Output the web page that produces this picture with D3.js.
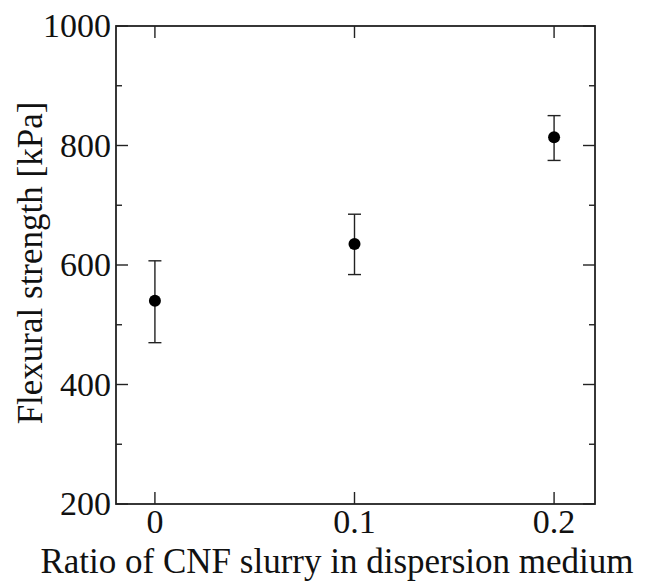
<!DOCTYPE html>
<html>
<head>
<meta charset="utf-8">
<title>Flexural strength</title>
<script src="https://d3js.org/d3.v7.min.js"></script>
<style>
  body { margin: 0; background: #fff; }
  text { font-family: "Liberation Serif", "Times New Roman", serif; fill: #111; }
</style>
</head>
<body>
<svg id="chart"></svg>
<script>
// data
var ratios = [0, 0.1, 0.2];
var strength = [540, 635, 814];
var errLow = [470, 584, 775];
var errHigh = [607, 685, 850];

var yTicks = [200, 400, 600, 800, 1000];
var yMinor = [300, 500, 700, 900];
var xTicks = [0, 0.1, 0.2];
var xTickLabels = ["0", "0.1", "0.2"];

var width = 646, height = 582;
var pLeft = 116, pRight = 595, pTop = 26, pBottom = 504;

var svg = d3.select("#chart").attr("width", width).attr("height", height);

var x = d3.scaleLinear().domain([-0.02, 0.22]).range([pLeft - 1, pRight - 1]);
var y = d3.scaleLinear().domain([200, 1000]).range([pBottom, pTop]);

var stroke = "#222";

// frame
svg.append("rect")
  .attr("x", pLeft).attr("y", pTop)
  .attr("width", pRight - pLeft).attr("height", pBottom - pTop)
  .attr("fill", "none").attr("stroke", stroke).attr("stroke-width", 1.8);

// ticks, inward on all sides
var g = svg.append("g").attr("stroke", stroke).attr("stroke-width", 1.4);
yTicks.forEach(function (v) {
  g.append("line").attr("x1", pLeft).attr("x2", pLeft + 12).attr("y1", y(v)).attr("y2", y(v));
  g.append("line").attr("x1", pRight).attr("x2", pRight - 12).attr("y1", y(v)).attr("y2", y(v));
});
yMinor.forEach(function (v) {
  g.append("line").attr("x1", pLeft).attr("x2", pLeft + 6).attr("y1", y(v)).attr("y2", y(v));
  g.append("line").attr("x1", pRight).attr("x2", pRight - 6).attr("y1", y(v)).attr("y2", y(v));
});
xTicks.forEach(function (v) {
  g.append("line").attr("x1", x(v)).attr("x2", x(v)).attr("y1", pBottom).attr("y2", pBottom - 12);
  g.append("line").attr("x1", x(v)).attr("x2", x(v)).attr("y1", pTop).attr("y2", pTop + 12);
});

// tick labels
svg.selectAll(".ylab").data(yTicks).enter().append("text")
  .attr("x", pLeft - 5).attr("y", function (d) { return y(d) + 11; })
  .attr("text-anchor", "end").attr("font-size", 34)
  .text(function (d) { return d; });

svg.selectAll(".xlab").data(xTicks).enter().append("text")
  .attr("x", function (d) { return x(d); }).attr("y", 533)
  .attr("text-anchor", "middle").attr("font-size", 34)
  .text(function (d, i) { return xTickLabels[i]; });

// axis titles
svg.append("text")
  .attr("x", 337).attr("y", 573)
  .attr("text-anchor", "middle").attr("font-size", 35)
  .text("Ratio of CNF slurry in dispersion medium");

svg.append("text")
  .attr("transform", "translate(42," + 263 + ") rotate(-90)")
  .attr("text-anchor", "middle").attr("font-size", 35)
  .text("Flexural strength [kPa]");

// error bars
var eb = svg.append("g").attr("stroke", stroke).attr("stroke-width", 1.4);
ratios.forEach(function (r, i) {
  var cx = x(r);
  eb.append("line").attr("x1", cx).attr("x2", cx).attr("y1", y(errLow[i])).attr("y2", y(errHigh[i]));
  eb.append("line").attr("x1", cx - 6.5).attr("x2", cx + 6.5).attr("y1", y(errLow[i])).attr("y2", y(errLow[i]));
  eb.append("line").attr("x1", cx - 6.5).attr("x2", cx + 6.5).attr("y1", y(errHigh[i])).attr("y2", y(errHigh[i]));
});

// points
svg.selectAll(".pt").data(ratios).enter().append("circle")
  .attr("cx", function (d) { return x(d); })
  .attr("cy", function (d, i) { return y(strength[i]); })
  .attr("r", 6).attr("fill", "#000");
</script>
</body>
</html>
